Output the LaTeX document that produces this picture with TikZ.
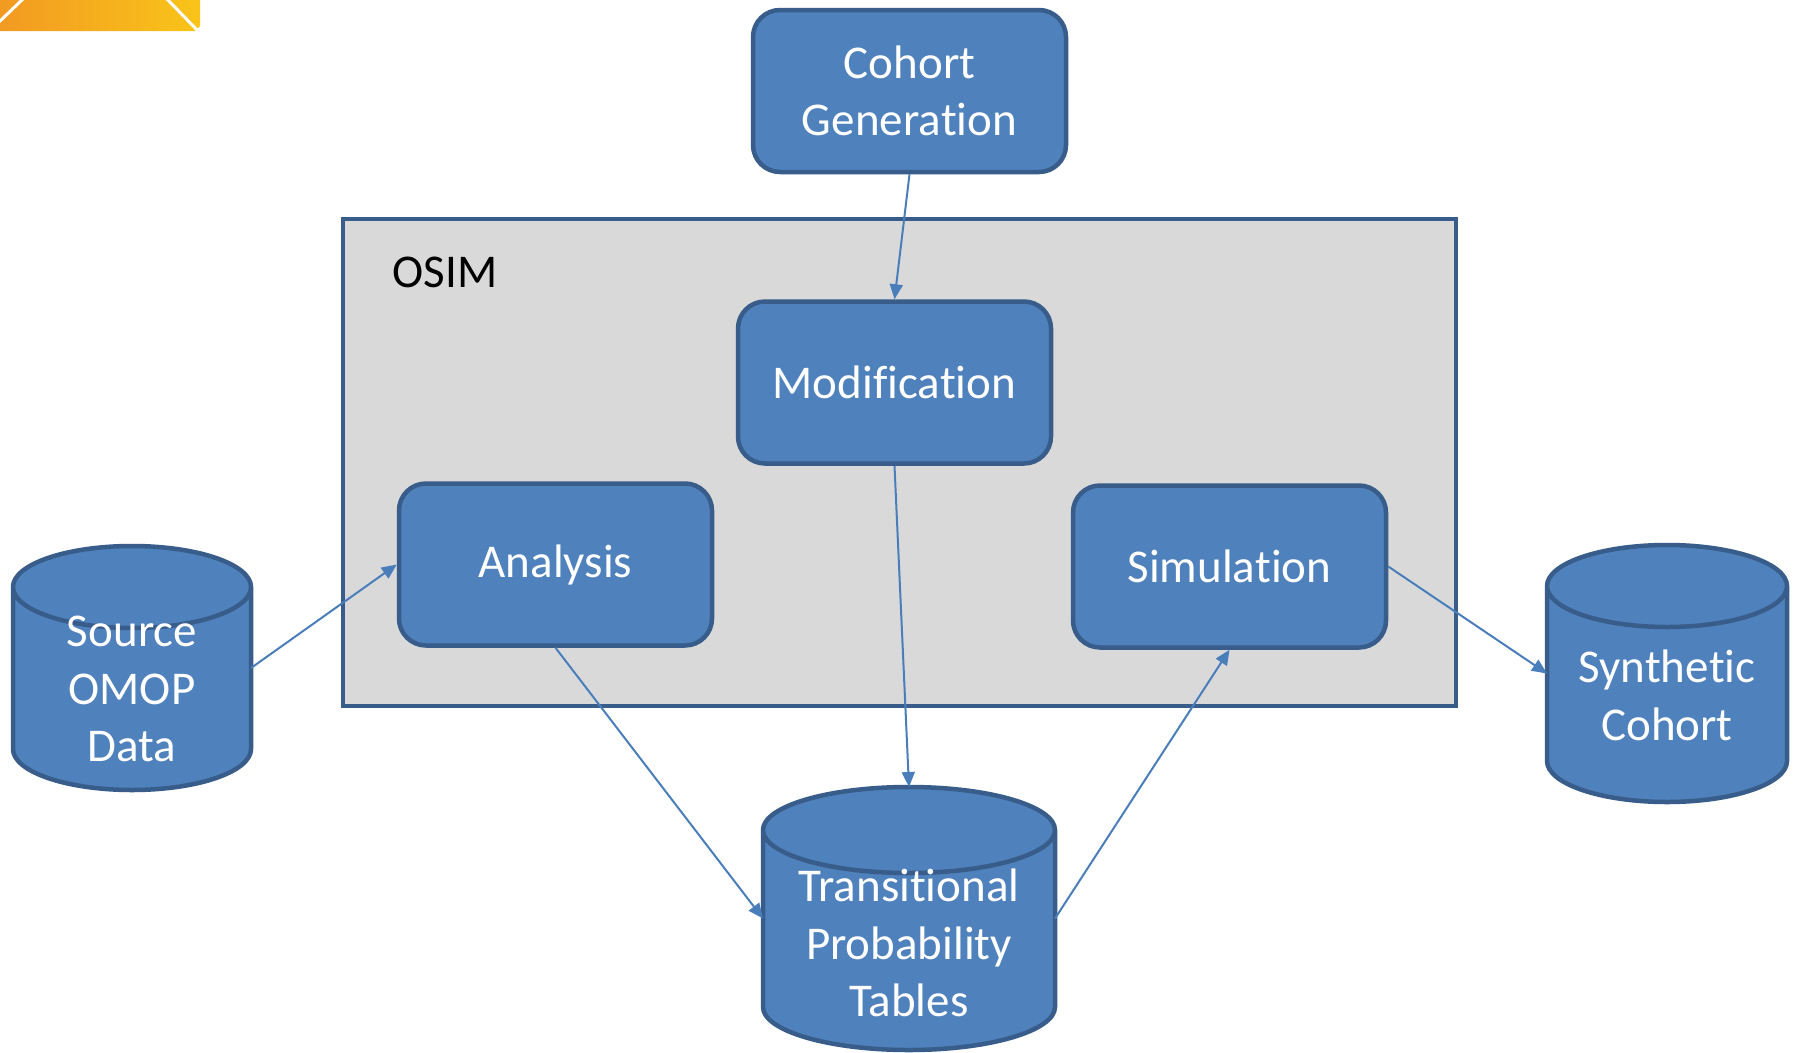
\documentclass[tikz,border=0pt]{standalone}
\usepackage{fontspec}
\setmainfont[Ligatures={NoCommon}]{Carlito}
\usetikzlibrary{arrows.meta,calc}
\newcommand\nl{\kern0pt }
\definecolor{boxfill}{HTML}{4F81BD}
\definecolor{boxline}{HTML}{385D8A}
\definecolor{arrowc}{HTML}{4A7EBB}
\definecolor{osimfill}{HTML}{D9D9D9}
\definecolor{orangeL}{HTML}{F29A22}
\definecolor{orangeR}{HTML}{F9C419}
\newcommand\drawdb[2]{%
  \path let \p1=(#1.north west), \p2=(#1.south east) in
   [draw=boxline, fill=boxfill, line width=4.5pt]
   (\x1,{\y1-#2}) -- (\x1,{\y2+#2})
     arc[start angle=180, end angle=360, x radius={(\x2-\x1)/2}, y radius=#2]
     -- (\x2,{\y1-#2})
     arc[start angle=0, end angle=180, x radius={(\x2-\x1)/2}, y radius=#2]
     -- cycle
   (\x1,{\y1-#2})
     arc[start angle=180, end angle=360, x radius={(\x2-\x1)/2}, y radius=#2];
}
\begin{document}
\begin{tikzpicture}[x=1pt,y=-1pt,
  bigfont/.style={font=\fontsize{47}{57.5}\selectfont},
  proc/.style={draw=boxline, fill=boxfill, line width=4.5pt, rounded corners=27pt,
    text=white, bigfont, align=center, inner sep=0pt,
    minimum width=313pt, minimum height=162pt},
  geo/.style={inner sep=0pt, outer sep=2pt},
  dbtext/.style={text=white, bigfont, align=center, inner sep=0pt},
  conn/.style={draw=arrowc, line width=2pt, -{Triangle[length=15pt,width=13pt]}}
]
\useasboundingbox (0,0) rectangle (1793,1052);
\fill[white] (0,0) rectangle (1793,1052);

% decorative corner
\shade[left color=orangeL, right color=orangeR]
  (0,0) -- (200,0) -- (200,26) -- (195,31) -- (0,31) -- cycle;
\draw[white, line width=3pt] (-2,23) -- (24,-2);
\draw[white, line width=3pt] (166,-2) -- (199,32);

% OSIM container
\node[draw=boxline, fill=osimfill, line width=4.5pt, inner sep=0pt,
  minimum width=1113pt, minimum height=487pt] (osim) at (899.5,462.5) {};
\node[bigfont, text=black, inner sep=0pt] (osimlabel) at (445,272) {OSIM};

% process boxes
\node[proc] (cohort) at (909.5,91) {Cohort\\Genera\nl tion};
\node[proc] (modif) at (894.5,382.5) {Modif\nl ica\nl tion};
\node[proc] (analysis) at (555.5,564.5) {Analysis};
\node[proc] (sim) at (1229.5,566.5) {Simula\nl tion};

% databases
\node[geo, minimum width=234pt, minimum height=240pt] (src) at (132,668) {};
\drawdb{src}{41pt}
\node[dbtext] (srctext) at (132,689) {Source\\OMOP\\Data};

\node[geo, minimum width=288pt, minimum height=259pt] (tpt) at (909,918.5) {};
\drawdb{tpt}{43pt}
\node[dbtext] (tpttext) at (909,943) {Transi\nl tional\\Probability\\Tables};

\node[geo, minimum width=236pt, minimum height=253pt] (syn) at (1667,673.5) {};
\drawdb{syn}{41pt}
\node[dbtext] (syntext) at (1667,695.5) {Synthe\nl tic\\Cohort};

% connectors
\draw[conn] (cohort.south) -- (modif.north);
\draw[conn] (src.east) -- (analysis.west);
\draw[conn] (modif.south) -- (tpt.north);
\draw[conn] (analysis.south) -- (tpt.west);
\draw[conn] (tpt.east) -- (sim.south);
\draw[conn] (sim.east) -- (syn.west);
\end{tikzpicture}
\end{document}
